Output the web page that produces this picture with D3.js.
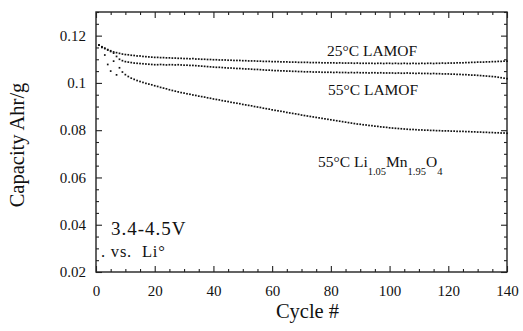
<!DOCTYPE html>
<html>
<head>
<meta charset="utf-8">
<script src="https://cdn.jsdelivr.net/npm/d3@7"></script>
<style>
  html, body { margin: 0; padding: 0; background: #fff; }
  svg { display: block; }
  text { font-family: "Liberation Serif", "Times New Roman", serif; fill: #111; }
</style>
</head>
<body>
<svg id="chart" width="523" height="331"></svg>
<script>
// Discharge capacity (Ahr/g) per cycle, cycles 1..140
const cycles = d3.range(1, 141);

const lamof25 = [
  0.1160, 0.1153, 0.1147, 0.1141, 0.1136, 0.1131, 0.1128, 0.1125, 0.1122, 0.1120,
  0.1119, 0.1117, 0.1116, 0.1114, 0.1114, 0.1112, 0.1111, 0.1110, 0.1109, 0.1108,
  0.1108, 0.1107, 0.1107, 0.1106, 0.1106, 0.1105, 0.1105, 0.1104, 0.1104, 0.1103,
  0.1103, 0.1102, 0.1103, 0.1101, 0.1101, 0.1100, 0.1100, 0.1099, 0.1099, 0.1098,
  0.1098, 0.1097, 0.1097, 0.1097, 0.1096, 0.1096, 0.1095, 0.1095, 0.1095, 0.1094,
  0.1094, 0.1093, 0.1093, 0.1093, 0.1092, 0.1092, 0.1091, 0.1091, 0.1091, 0.1090,
  0.1090, 0.1090, 0.1089, 0.1089, 0.1089, 0.1088, 0.1088, 0.1088, 0.1087, 0.1087,
  0.1087, 0.1087, 0.1086, 0.1086, 0.1086, 0.1086, 0.1085, 0.1085, 0.1085, 0.1085,
  0.1085, 0.1084, 0.1085, 0.1084, 0.1084, 0.1084, 0.1084, 0.1083, 0.1084, 0.1083,
  0.1083, 0.1083, 0.1083, 0.1083, 0.1082, 0.1083, 0.1083, 0.1082, 0.1083, 0.1083,
  0.1082, 0.1083, 0.1082, 0.1082, 0.1083, 0.1082, 0.1082, 0.1083, 0.1082, 0.1082,
  0.1083, 0.1082, 0.1083, 0.1083, 0.1082, 0.1083, 0.1083, 0.1084, 0.1083, 0.1084,
  0.1084, 0.1084, 0.1085, 0.1085, 0.1085, 0.1086, 0.1086, 0.1087, 0.1087, 0.1088,
  0.1088, 0.1088, 0.1089, 0.1089, 0.1090, 0.1090, 0.1091, 0.1091, 0.1092, 0.1092
];

const lamof55 = [
  0.1160, 0.1152, 0.1145, 0.1139, 0.1133, 0.1126, 0.1112, 0.1100, 0.1094, 0.1090,
  0.1088, 0.1086, 0.1084, 0.1083, 0.1082, 0.1081, 0.1080, 0.1079, 0.1078, 0.1077,
  0.1077, 0.1078, 0.1077, 0.1076, 0.1077, 0.1077, 0.1076, 0.1077, 0.1076, 0.1075,
  0.1075, 0.1074, 0.1074, 0.1073, 0.1072, 0.1071, 0.1070, 0.1069, 0.1068, 0.1067,
  0.1066, 0.1066, 0.1065, 0.1064, 0.1063, 0.1063, 0.1062, 0.1061, 0.1061, 0.1060,
  0.1059, 0.1059, 0.1058, 0.1057, 0.1057, 0.1056, 0.1055, 0.1054, 0.1054, 0.1053,
  0.1052, 0.1052, 0.1051, 0.1051, 0.1050, 0.1050, 0.1049, 0.1049, 0.1048, 0.1048,
  0.1047, 0.1047, 0.1047, 0.1046, 0.1046, 0.1046, 0.1045, 0.1045, 0.1045, 0.1045,
  0.1044, 0.1045, 0.1044, 0.1044, 0.1044, 0.1043, 0.1044, 0.1043, 0.1044, 0.1043,
  0.1043, 0.1043, 0.1042, 0.1043, 0.1043, 0.1042, 0.1043, 0.1042, 0.1042, 0.1042,
  0.1042, 0.1041, 0.1042, 0.1041, 0.1041, 0.1042, 0.1041, 0.1041, 0.1040, 0.1041,
  0.1040, 0.1040, 0.1040, 0.1039, 0.1040, 0.1039, 0.1039, 0.1038, 0.1038, 0.1038,
  0.1037, 0.1037, 0.1036, 0.1036, 0.1035, 0.1035, 0.1034, 0.1033, 0.1033, 0.1032,
  0.1031, 0.1030, 0.1029, 0.1028, 0.1027, 0.1026, 0.1024, 0.1022, 0.1020, 0.1018
];

const limn55 = [
  0.1160, 0.1150, 0.1118, 0.1078, 0.1050, 0.1092, 0.1034, 0.1064, 0.1046, 0.1035,
  0.1027, 0.1020, 0.1015, 0.1010, 0.1006, 0.1002, 0.0998, 0.0995, 0.0992, 0.0988,
  0.0985, 0.0981, 0.0978, 0.0975, 0.0971, 0.0968, 0.0965, 0.0962, 0.0959, 0.0957,
  0.0954, 0.0952, 0.0949, 0.0947, 0.0944, 0.0942, 0.0940, 0.0937, 0.0935, 0.0932,
  0.0930, 0.0928, 0.0925, 0.0923, 0.0921, 0.0918, 0.0916, 0.0914, 0.0912, 0.0909,
  0.0907, 0.0905, 0.0903, 0.0900, 0.0898, 0.0896, 0.0893, 0.0891, 0.0889, 0.0886,
  0.0884, 0.0882, 0.0880, 0.0878, 0.0875, 0.0873, 0.0871, 0.0869, 0.0867, 0.0864,
  0.0862, 0.0860, 0.0858, 0.0856, 0.0854, 0.0852, 0.0850, 0.0848, 0.0846, 0.0844,
  0.0842, 0.0840, 0.0838, 0.0836, 0.0834, 0.0832, 0.0830, 0.0828, 0.0826, 0.0825,
  0.0823, 0.0822, 0.0820, 0.0819, 0.0817, 0.0816, 0.0814, 0.0813, 0.0812, 0.0810,
  0.0809, 0.0808, 0.0807, 0.0806, 0.0805, 0.0804, 0.0803, 0.0803, 0.0802, 0.0801,
  0.0801, 0.0800, 0.0800, 0.0799, 0.0799, 0.0798, 0.0798, 0.0797, 0.0797, 0.0797,
  0.0796, 0.0796, 0.0795, 0.0795, 0.0795, 0.0794, 0.0794, 0.0793, 0.0793, 0.0792,
  0.0792, 0.0791, 0.0791, 0.0790, 0.0790, 0.0789, 0.0789, 0.0788, 0.0788, 0.0787
];

const xTickValues = [0, 20, 40, 60, 80, 100, 120, 140];
const yTickValues = [0.02, 0.04, 0.06, 0.08, 0.1, 0.12];
const yTickLabels = ["0.02", "0.04", "0.06", "0.08", "0.1", "0.12"];

const SERIF = "'Liberation Serif', 'Times New Roman', serif";
const svg = d3.select("#chart");
const W = 523, H = 331;
const margin = { left: 96, right: 16, top: 12, bottom: 59 };
const x0 = margin.left, x1 = W - margin.right;
const y0 = H - margin.bottom, y1 = margin.top;

const x = d3.scaleLinear().domain([0, 140]).range([x0, x1]);
const y = d3.scaleLinear().domain([0.02, 0.13]).range([y0, y1]);

svg.append("rect").attr("width", W).attr("height", H).attr("fill", "#fff");

// minor tick positions: every 5 cycles and every 0.005 Ahr/g
const xMinor = d3.range(0, 141, 5).filter(v => v % 20 !== 0);
const yMinor = d3.range(4, 27).map(i => i * 0.005)
  .filter(v => Math.abs(v / 0.02 - Math.round(v / 0.02)) > 1e-6);

function styleAxis(g) {
  g.attr("font-family", SERIF);
  g.select(".domain").remove();
  g.selectAll(".tick line").attr("stroke", "#222").attr("stroke-width", 1.1);
  g.selectAll(".tick text")
    .style("font-family", SERIF)
    .attr("font-size", 15)
    .attr("fill", "#111");
}

// bottom axis with labels
svg.append("g").attr("transform", `translate(0,${y0})`)
  .call(d3.axisBottom(x).tickValues(xTickValues).tickSize(-6).tickPadding(13).tickFormat(d3.format("d")))
  .call(styleAxis);
svg.append("g").attr("transform", `translate(0,${y0})`)
  .call(d3.axisBottom(x).tickValues(xMinor).tickSize(-3).tickFormat(""))
  .call(styleAxis);
// top axis, ticks only
svg.append("g").attr("transform", `translate(0,${y1})`)
  .call(d3.axisTop(x).tickValues(xTickValues).tickSize(-6).tickFormat(""))
  .call(styleAxis);
svg.append("g").attr("transform", `translate(0,${y1})`)
  .call(d3.axisTop(x).tickValues(xMinor).tickSize(-3).tickFormat(""))
  .call(styleAxis);
// left axis with labels
svg.append("g").attr("transform", `translate(${x0},0)`)
  .call(d3.axisLeft(y).tickValues(yTickValues).tickSize(-6).tickPadding(10)
    .tickFormat((d, i) => yTickLabels[i]))
  .call(styleAxis);
svg.append("g").attr("transform", `translate(${x0},0)`)
  .call(d3.axisLeft(y).tickValues(yMinor).tickSize(-3).tickFormat(""))
  .call(styleAxis);
// right axis, ticks only
svg.append("g").attr("transform", `translate(${x1},0)`)
  .call(d3.axisRight(y).tickValues(yTickValues).tickSize(-6).tickFormat(""))
  .call(styleAxis);
svg.append("g").attr("transform", `translate(${x1},0)`)
  .call(d3.axisRight(y).tickValues(yMinor).tickSize(-3).tickFormat(""))
  .call(styleAxis);

// plot frame
svg.append("rect")
  .attr("x", x0).attr("y", y1)
  .attr("width", x1 - x0).attr("height", y0 - y1)
  .attr("fill", "none").attr("stroke", "#222").attr("stroke-width", 1.4);

// data points, one small square per cycle
const series = [lamof25, lamof55, limn55];
series.forEach(vals => {
  svg.append("g").selectAll("rect")
    .data(cycles.map((c, i) => [c, vals[i]]))
    .join("rect")
    .attr("x", d => x(d[0]) - 0.85)
    .attr("y", d => y(d[1]) - 0.85)
    .attr("width", 1.7).attr("height", 1.7)
    .attr("fill", "#111");
});

// axis titles
svg.append("text")
  .attr("x", (x0 + x1) / 2 + 6).attr("y", 318)
  .attr("text-anchor", "middle").attr("font-size", 20.5)
  .text("Cycle #");
svg.append("text")
  .attr("transform", `translate(24,${(y0 + y1) / 2 + 3}) rotate(-90)`)
  .attr("text-anchor", "middle").attr("font-size", 20.5)
  .text("Capacity Ahr/g");

// series labels
svg.append("text").attr("x", 327).attr("y", 56).attr("font-size", 15.5).text("25°C LAMOF");
svg.append("text").attr("x", 328).attr("y", 94.5).attr("font-size", 15.5).text("55°C LAMOF");

const lab = svg.append("text").attr("x", 318).attr("y", 167).attr("font-size", 15.5);
lab.append("tspan").text("55°C Li");
lab.append("tspan").attr("font-size", 10.5).attr("dy", 8).text("1.05");
lab.append("tspan").attr("dy", -8).text("Mn");
lab.append("tspan").attr("font-size", 10.5).attr("dy", 8).text("1.95");
lab.append("tspan").attr("dy", -8).text("O");
lab.append("tspan").attr("font-size", 10.5).attr("dy", 8).text("4");

// test conditions
svg.append("text").attr("x", 111).attr("y", 234.5).attr("font-size", 19)
  .attr("letter-spacing", 1).text("3.4-4.5V");
svg.append("text").attr("x", 101).attr("y", 257).attr("font-size", 16.5)
  .attr("letter-spacing", 0.8).style("white-space", "pre")
  .text(". vs.  Li°");
</script>
</body>
</html>
